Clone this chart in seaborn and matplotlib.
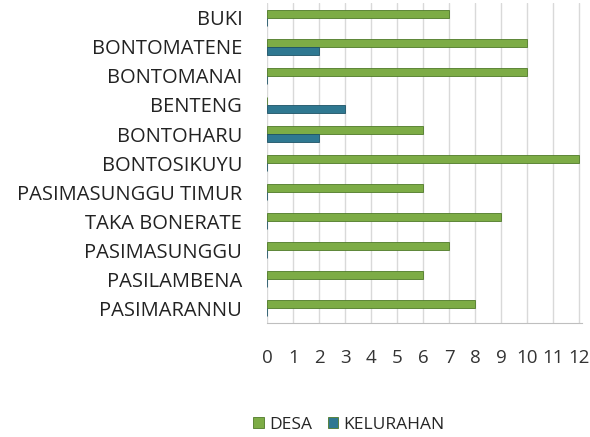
import pandas as pd
import matplotlib.pyplot as plt
import seaborn as sns

# Kecamatan names, top to bottom as in the chart
kecamatan = ["BUKI", "BONTOMATENE", "BONTOMANAI", "BENTENG", "BONTOHARU",
             "BONTOSIKUYU", "PASIMASUNGGU TIMUR", "TAKA BONERATE",
             "PASIMASUNGGU", "PASILAMBENA", "PASIMARANNU"]
desa = [7, 10, 10, 0, 6, 12, 6, 9, 7, 6, 8]
kelurahan = [0, 2, 0, 3, 2, 0, 0, 0, 0, 0, 0]
x_ticks = list(range(0, 13))

# Long form for seaborn
df = pd.DataFrame({
    "kecamatan": kecamatan * 2,
    "jumlah": desa + kelurahan,
    "jenis": ["DESA"] * len(desa) + ["KELURAHAN"] * len(kelurahan),
})

sns.set_style("white")
plt.rcParams["font.family"] = ["Open Sans", "DejaVu Sans"]

fig = plt.figure(figsize=(5.9, 4.37), dpi=100)
ax = fig.add_axes([0.453, 0.262, 0.533, 0.73])

palette = {"DESA": "#7dac46", "KELURAHAN": "#2f7891"}
sns.barplot(data=df, y="kecamatan", x="jumlah", hue="jenis", orient="h",
            palette=palette, width=0.58, order=kecamatan, ax=ax,
            edgecolor="#4f7a28", linewidth=0.6, saturation=1)

# darker edge for the blue series
for bar in ax.containers[1]:
    bar.set_edgecolor("#1d5266")

ax.set_xlim(0, 12.1)
ax.set_xticks(x_ticks)
ax.set_xticklabels([str(t) for t in x_ticks], fontsize=13.5, color="#333333")
ax.tick_params(axis="x", pad=19, length=0)
ax.tick_params(axis="y", length=0, pad=18, labelsize=14.5, labelcolor="#222222")
ax.xaxis.grid(True, color="#d9d9d9", linewidth=1)
ax.set_axisbelow(True)
ax.set_xlabel("")
ax.set_ylabel("")
for s in ["top", "right", "left"]:
    ax.spines[s].set_visible(False)
ax.spines["bottom"].set_color("#bfbfbf")

ax.legend(loc="center", bbox_to_anchor=(0.26, -0.32), ncol=2,
          frameon=False, fontsize=12.5, handlelength=0.6, handleheight=0.6,
          columnspacing=0.9, handletextpad=0.3)

fig.savefig("out.png", dpi=100)
